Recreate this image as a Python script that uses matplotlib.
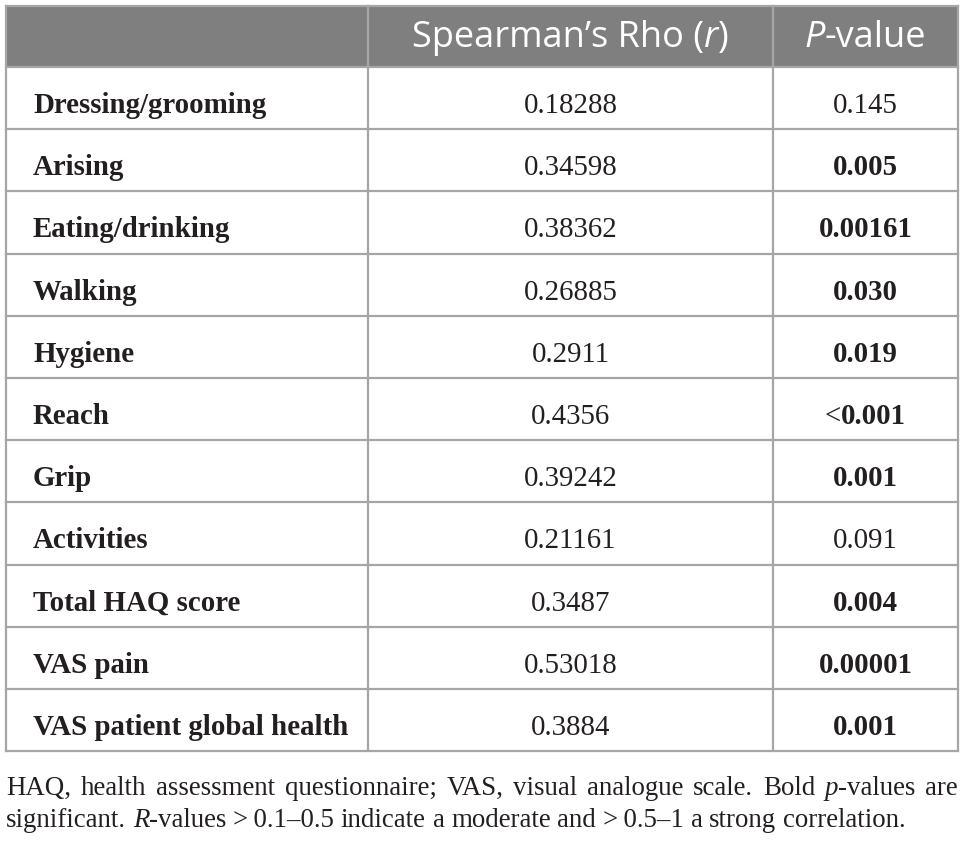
import matplotlib
matplotlib.use("Agg")
import matplotlib.pyplot as plt
from matplotlib.patches import Rectangle

# ---------------- data ----------------
col_headers = [
    [],
    [("Spearman\u2019s Rho (", "normal"), ("r", "italic"), (")", "normal")],
    [("P", "italic"), ("-value", "normal")],
]
row_labels = ["Dressing/grooming", "Arising", "Eating/drinking", "Walking",
              "Hygiene", "Reach", "Grip", "Activities", "Total HAQ score",
              "VAS pain", "VAS patient global health"]
rho_values = ["0.18288", "0.34598", "0.38362", "0.26885", "0.2911", "0.4356",
              "0.39242", "0.21161", "0.3487", "0.53018", "0.3884"]
p_values = ["0.145", "0.005", "0.00161", "0.030", "0.019", "<0.001",
            "0.001", "0.091", "0.004", "0.00001", "0.001"]
p_bold = [False, True, True, True, True, True, True, False, True, True, True]

footnote_line1 = [
    [("HAQ,", "r")], [("health", "r")], [("assessment", "r")], [("questionnaire;", "r")],
    [("VAS,", "r")], [("visual", "r")], [("analogue", "r")], [("scale.", "r")],
    [("Bold", "r")], [("p", "i"), ("-values", "r")], [("are", "r")],
]
footnote_line2 = [
    [("significant.", "r")], [("R", "i"), ("-values", "r")], [(">\u20090.1\u20130.5", "r")],
    [("indicate", "r")], [("a", "r")], [("moderate", "r")], [("and", "r")],
    [(">\u20090.5\u20131", "r")], [("a", "r")], [("strong", "r")], [("correlation.", "r")],
]

# ---------------- layout ----------------
W, H = 964, 845
fig = plt.figure(figsize=(W / 100, H / 100), dpi=100)
ax = fig.add_axes([0, 0, 1, 1])
ax.set_xlim(0, W)
ax.set_ylim(H, 0)
ax.axis("off")
renderer = fig.canvas.get_renderer()

left, right, top = 6, 958, 7
header_bottom = 68
row_h = 62.2
col_x = [6, 368, 773, 958]
n = len(row_labels)
bottom = header_bottom + n * row_h

line_c = "#a6a6a6"
lw = 1.6

SERIF = "Liberation Serif"
SANS = "Open Sans"


def measure(s, **kw):
    t = ax.text(0, 0, s, **kw)
    w = t.get_window_extent(renderer).width
    t.remove()
    return w


def draw_pieces(x, y, pieces, ha, base_kw, style_map):
    widths = []
    for s, st in pieces:
        kw = dict(base_kw)
        kw.update(style_map[st])
        widths.append(measure(s, **kw))
    total = sum(widths)
    if ha == "center":
        x0 = x - total / 2
    elif ha == "left":
        x0 = x
    else:
        x0 = x - total
    for (s, st), w in zip(pieces, widths):
        kw = dict(base_kw)
        kw.update(style_map[st])
        ax.text(x0, y, s, ha="left", **kw)
        x0 += w
    return total


# header background
ax.add_patch(Rectangle((left, top), right - left, header_bottom - top,
                       facecolor="#7f7f7f", edgecolor="none", zorder=1))

# horizontal lines
for k in range(n + 1):
    y = header_bottom + k * row_h
    ax.plot([left, right], [y, y], color=line_c, lw=lw, zorder=3,
            solid_capstyle="projecting")
ax.plot([left, right], [top, top], color=line_c, lw=lw, zorder=3,
        solid_capstyle="projecting")
# vertical lines
for x in col_x:
    ax.plot([x, x], [top, bottom], color=line_c, lw=lw, zorder=3,
            solid_capstyle="projecting")

# header text
hdr_kw = dict(fontfamily=SANS, fontsize=26, color="white", va="baseline", zorder=4)
hdr_styles = {"normal": {"fontstyle": "normal"}, "italic": {"fontstyle": "italic"}}
hy = 47
for j, pieces in enumerate(col_headers):
    if pieces:
        cx = (col_x[j] + col_x[j + 1]) / 2
        draw_pieces(cx, hy, pieces, "center", hdr_kw, hdr_styles)

# body
body_size = 20.8
body_styles = {"b": {"fontweight": "bold"}, "r": {"fontweight": "normal"}}
body_kw = dict(fontfamily=SERIF, fontsize=body_size, color="#231f20",
               va="baseline", zorder=4)
c2 = (col_x[1] + col_x[2]) / 2
c3 = (col_x[2] + col_x[3]) / 2
for i in range(n):
    y = header_bottom + i * row_h + 45
    ax.text(33, y, row_labels[i], ha="left", fontweight="bold", **body_kw)
    ax.text(c2, y, rho_values[i], ha="center", **body_kw)
    v = p_values[i]
    if p_bold[i]:
        if v.startswith("<"):
            pieces = [("<", "r"), (v[1:], "b")]
        else:
            pieces = [(v, "b")]
    else:
        pieces = [(v, "r")]
    draw_pieces(c3, y, pieces, "center", body_kw, body_styles)

# footnote
fn_styles = {"r": {"fontstyle": "normal"}, "i": {"fontstyle": "italic"}}
fn_kw = dict(fontfamily=SERIF, fontsize=19.4, color="#231f20", va="baseline", zorder=4)


def word_width(word):
    tot = 0
    for s, st in word:
        kw = dict(fn_kw)
        kw.update(fn_styles[st])
        tot += measure(s, **kw)
    return tot


def draw_line(words, y, justify):
    ws = [word_width(w) for w in words]
    space = measure("a a", **fn_kw) - measure("aa", **fn_kw)
    if justify:
        gap = (right - left - sum(ws)) / (len(words) - 1)
    else:
        gap = space
    x = left
    for w, width in zip(words, ws):
        draw_pieces(x, y, w, "left", fn_kw, fn_styles)
        x += width + gap


draw_line(footnote_line1, 795, True)
draw_line(footnote_line2, 827, False)

fig.savefig("out.png", dpi=100, facecolor="white")
